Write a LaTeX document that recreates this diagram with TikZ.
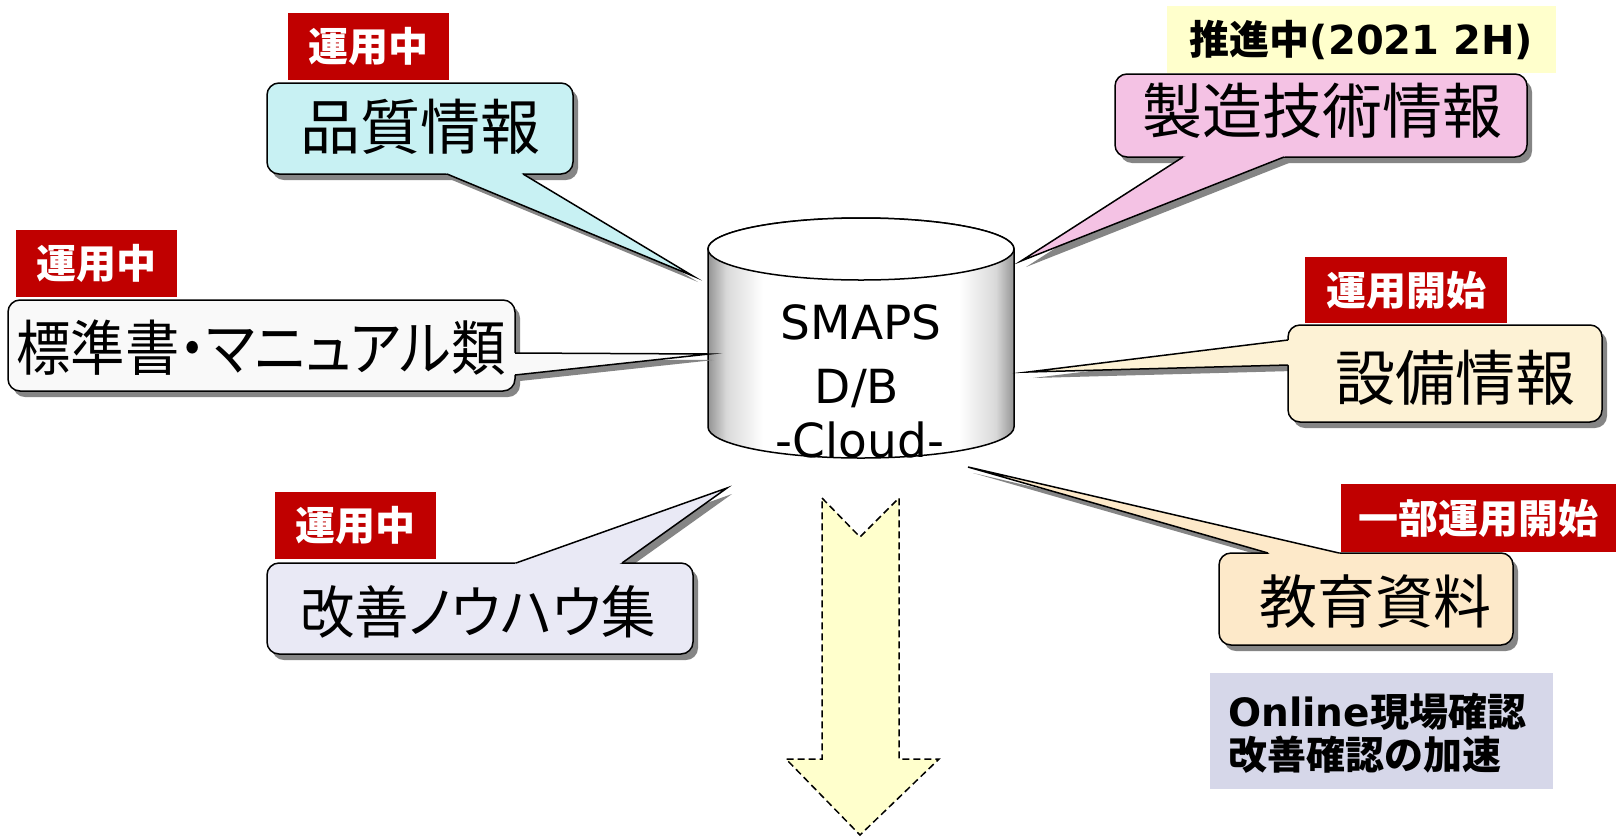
\documentclass[tikz,border=0pt]{standalone}
\usepackage{fontspec}
\usepackage{graphicx}
\usetikzlibrary{calc}
\newfontfamily\jp{Noto Sans CJK JP}
\newfontfamily\jpp[RawFeature=+palt]{Noto Sans CJK JP}
\newfontfamily\dv{DejaVu Sans}
\definecolor{redtag}{HTML}{C00000}
\definecolor{yeltag}{HTML}{FFFFCC}
\definecolor{cQ}{HTML}{C8F1F3}
\definecolor{cM}{HTML}{F4C2E4}
\definecolor{cS}{HTML}{F9F9F9}
\definecolor{cE}{HTML}{FDF2D5}
\definecolor{cK}{HTML}{FDE9C9}
\definecolor{cN}{HTML}{E9E9F5}
\definecolor{cO}{HTML}{D6D7E9}
\definecolor{shadowc}{HTML}{858585}
\definecolor{arrowc}{HTML}{FFFFCC}
\pgfdeclarehorizontalshading{cylshade}{100bp}{color(0bp)=(black!42); color(25bp)=(black!42); color(28bp)=(black!15); color(34bp)=(white); color(66bp)=(white); color(72bp)=(black!15); color(75bp)=(black!42); color(100bp)=(black!42)}
% #1 fill, #2 corner, #3 corner, #4 base1, #5 tip, #6 base2
\newcommand\callout[6]{%
  \fill[shadowc,rounded corners=12pt] ($#2+(5,6)$) rectangle ($#3+(5,6)$);
  \fill[shadowc] ($#4+(5,6)$) -- ($#5+(5,6)$) -- ($#6+(5,6)$) -- cycle;
  \filldraw[fill=#1,draw=black,line width=1.5pt,rounded corners=12pt] #2 rectangle #3;
  \fill[#1] #4 -- #5 -- #6 -- ($#2!0.5!#3$) -- cycle;
  \draw[line width=1.5pt,line join=miter,miter limit=30] #4 -- #5 -- #6;
}
\begin{document}
\begin{tikzpicture}[x=1pt,y=-1pt,
  redlabel/.style={fill=redtag,text=white,font=\jp\bfseries\fontsize{40}{44}\selectfont,inner sep=0pt,minimum width=161pt,minimum height=67pt},
  big/.style={font=\jp\fontsize{60}{66}\selectfont,inner sep=0pt},
  dbtext/.style={font=\dv\fontsize{47}{52}\selectfont,inner sep=0pt,anchor=base}]
\useasboundingbox (0,0) rectangle (1616,836);
\fill[white] (0,0) rectangle (1616,836);

% database cylinder
\shadedraw[shading=cylshade,draw=black,line width=1.5pt]
  (708,249) -- (708,427) arc[start angle=180,end angle=360,x radius=153pt,y radius=31pt]
  -- (1014,249) arc[start angle=0,end angle=180,x radius=153pt,y radius=31pt] -- cycle;
\filldraw[fill=white,draw=black,line width=1.5pt] (861,249) ellipse [x radius=153pt,y radius=31pt];
\node[dbtext] (db1) at (861,339) {SMAPS};
\node[dbtext] (db2) at (857,403) {D/B};
\node[dbtext] (db3) at (860,457) {-Cloud-};

% tips of the callouts
\coordinate (tipQ) at (693,276);
\coordinate (tipM) at (1021,261);
\coordinate (tipS) at (709,354);
\coordinate (tipE) at (1028,372);
\coordinate (tipK) at (968,467);
\coordinate (tipN) at (727,488);

% callouts
\callout{cQ}{(267,83)}{(573,174)}{(447,174)}{(tipQ)}{(523,174)}
\callout{cM}{(1115,74)}{(1527,157)}{(1183,157)}{(tipM)}{(1284,157)}
\callout{cS}{(8,300)}{(515,391)}{(515,353)}{(tipS)}{(515,375)}
\callout{cE}{(1288,325)}{(1602,422)}{(1288,340)}{(tipE)}{(1288,365)}
\callout{cK}{(1219,553)}{(1513,645)}{(1268,553)}{(tipK)}{(1339,553)}
\callout{cN}{(267,563)}{(693,654)}{(516,563)}{(tipN)}{(622,563)}

\node[big] (nQ) at (420,127) {品質情報};
\node[big] (nM) at (1322,111) {製造技術情報};
\node[big,font=\jpp\fontsize{60}{66}\selectfont] (nS) at (261,348) {\resizebox{489pt}{\height}{標準書・マニュアル類}};
\node[big] (nE) at (1455,378) {設備情報};
\node[big,font=\jp\fontsize{58}{64}\selectfont] (nK) at (1375,602) {教育資料};
\node[big,font=\jpp\fontsize{57}{62}\selectfont] (nN) at (478,612) {\resizebox{356pt}{\height}{改善ノウハウ集}};

% status tags
\node[redlabel] (tQ) at (368.5,46.5) {運用中};
\node[redlabel] (tS) at (96.5,263) {運用中};
\node[redlabel] (tN) at (355.5,525.5) {運用中};
\node[redlabel,minimum width=202pt,minimum height=66pt] (tE) at (1406,290) {運用開始};
\node[redlabel,minimum width=275pt,minimum height=68pt] (tK) at (1478.5,518) {一部運用開始};
\node[fill=yeltag,minimum width=389pt,minimum height=67pt,inner sep=0pt,font=\fontsize{40}{44}\selectfont] (tM) at (1361.5,39.5) {{\jp\bfseries 推進中}{\dv\bfseries (2021 2H)}};

% big arrow
\draw[fill=arrowc,line width=1.5pt,dash pattern=on 7pt off 4pt]
  (822,498) -- (860,537) -- (899,498) -- (899,759) -- (939,759) -- (860,835) -- (786,759) -- (822,759) -- cycle;

% result box
\node[fill=cO,minimum width=343pt,minimum height=116pt,inner sep=0pt] (ob) at (1381.5,731) {};
\node[anchor=west,inner sep=0pt,font=\fontsize{39}{44}\selectfont] (ob1) at (1228,712) {{\dv\bfseries Online}{\jp\bfseries 現場確認}};
\node[anchor=west,inner sep=0pt,font=\jp\bfseries\fontsize{39}{44}\selectfont] (ob2) at (1228,755) {改善確認の加速};
\end{tikzpicture}
\end{document}
